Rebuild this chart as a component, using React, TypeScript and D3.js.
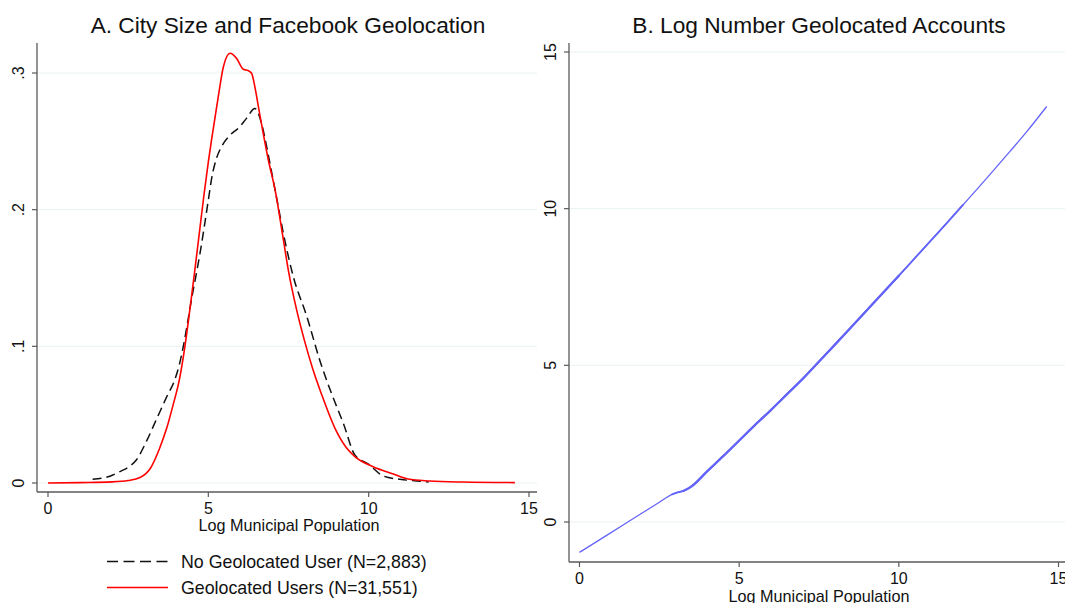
import React from "react";
import * as d3 from "d3";

// Panel A: kernel densities of log municipal population
const noGeoX = [1.39, 1.93, 2.3, 2.5, 2.76, 3.08, 3.39, 3.7, 3.96, 4.1, 4.22, 4.35, 4.48, 4.6, 4.74, 4.87, 5.0, 5.12, 5.26, 5.41, 5.68, 5.93, 6.19, 6.45, 6.66, 6.82, 6.98, 7.18, 7.34, 7.65, 8.07, 8.5, 8.85, 9.21, 9.57, 9.99, 10.46, 10.98, 11.5, 11.87];
const noGeoY = [0.0027, 0.005, 0.009, 0.0115, 0.017, 0.031, 0.047, 0.063, 0.076, 0.087, 0.1, 0.117, 0.135, 0.15, 0.168, 0.187, 0.207, 0.225, 0.238, 0.246, 0.2546, 0.2595, 0.2668, 0.274, 0.263, 0.246, 0.2268, 0.2024, 0.1827, 0.151, 0.1219, 0.088, 0.065, 0.0437, 0.0205, 0.0139, 0.0051, 0.0027, 0.0015, 0.0008];

const geoX = [0, 1, 2, 2.5, 2.87, 3.2, 3.49, 3.7, 3.9, 4.1, 4.27, 4.43, 4.58, 4.72, 4.86, 5.0, 5.1, 5.31, 5.47, 5.68, 5.88, 6.09, 6.25, 6.35, 6.45, 6.56, 6.71, 6.87, 7.08, 7.34, 7.5, 7.75, 8.0, 8.25, 8.53, 8.95, 9.3, 9.57, 10.14, 10.77, 11.23, 11.9, 12.95, 14.56];
const geoY = [0.0, 0.0003, 0.0008, 0.0018, 0.004, 0.011, 0.026, 0.04, 0.057, 0.076, 0.1, 0.128, 0.156, 0.183, 0.21, 0.235, 0.251, 0.2827, 0.3046, 0.3144, 0.3107, 0.3027, 0.3017, 0.2998, 0.29, 0.2756, 0.256, 0.2365, 0.2146, 0.178, 0.155, 0.127, 0.104, 0.084, 0.065, 0.04, 0.026, 0.0193, 0.0119, 0.0066, 0.0029, 0.0015, 0.0007, 0.0003];

// Panel B: log number geolocated accounts vs log population
const accX = [0, 0.5, 1.0, 1.5, 2.0, 2.5, 2.9, 3.1, 3.25, 3.5, 4.0, 4.5, 5.0, 5.5, 6.0, 6.5, 7.0, 7.5, 8.0, 8.5, 9.0, 9.5, 10.0, 10.5, 11.0, 11.5, 12.0, 12.5, 13.0, 13.5, 14.0, 14.63];
const accY = [-0.97, -0.65, -0.33, -0.01, 0.31, 0.63, 0.88, 0.95, 0.99, 1.13, 1.62, 2.1, 2.6, 3.1, 3.58, 4.08, 4.58, 5.12, 5.66, 6.21, 6.76, 7.31, 7.86, 8.42, 8.98, 9.54, 10.11, 10.68, 11.26, 11.85, 12.45, 13.26];

const xTicks = [0, 5, 10, 15];
const yTicksA = [0, 0.1, 0.2, 0.3];
const yTickLabelsA = ["0", ".1", ".2", ".3"];
const yTicksB = [0, 5, 10, 15];

const titleA = "A. City Size and Facebook Geolocation";
const titleB = "B. Log Number Geolocated Accounts";
const xTitle = "Log Municipal Population";
const legendLabels = ["No Geolocated User (N=2,883)", "Geolocated Users (N=31,551)"];

const FONT = "'Liberation Sans', Arial, Helvetica, sans-serif";
const AXIS = "#5a5a5a";
const GRID = "#eaf2f3";
const BLUE = "#6464f8";

export default function App() {
  // Panel A scales
  const xA = d3.scaleLinear().domain([0, 15]).range([48, 529]);
  const yA = d3.scaleLinear().domain([0, 0.3]).range([483, 73]);
  // Panel B scales
  const xB = d3.scaleLinear().domain([0, 15]).range([579.5, 1058.5]);
  const yB = d3.scaleLinear().domain([0, 15]).range([522, 52]);

  const lineA = d3
    .line<[number, number]>()
    .x((d) => xA(d[0]))
    .y((d) => yA(d[1]))
    .curve(d3.curveMonotoneX);
  const lineB = d3
    .line<[number, number]>()
    .x((d) => xB(d[0]))
    .y((d) => yB(d[1]))
    .curve(d3.curveMonotoneX);

  const noGeo = noGeoX.map((x, i) => [x, noGeoY[i]] as [number, number]);
  const geo = geoX.map((x, i) => [x, geoY[i]] as [number, number]);
  const acc = accX.map((x, i) => [x, accY[i]] as [number, number]);
  const accMid = acc.filter((d) => d[0] >= 2.9 && d[0] <= 12);
  const accDense = acc.filter((d) => d[0] >= 3.25 && d[0] <= 10);

  const aLeft = 37, aRight = 537, aTop = 43, aBottom = 492;
  const bLeft = 569, bRight = 1065, bTop = 43, bBottom = 562;
  const tickFs = 16;

  return (
    <svg
      width={1065}
      height={603}
      style={{ position: "absolute", left: 0, top: 0, background: "#fff" }}
      fontFamily={FONT}
    >
      <rect x={0} y={0} width={1065} height={603} fill="#fff" />
      {/* Panel A */}
      <g>
        {yTicksA.map((t) => (
          <line key={"ga" + t} x1={aLeft} x2={aRight} y1={yA(t)} y2={yA(t)} stroke={GRID} strokeWidth={1} />
        ))}
        <line x1={aLeft} x2={aLeft} y1={aTop} y2={aBottom} stroke={AXIS} strokeWidth={1.3} />
        <line x1={aLeft} x2={aRight} y1={aBottom} y2={aBottom} stroke={AXIS} strokeWidth={1.3} />
        {yTicksA.map((t, i) => (
          <g key={"ya" + t}>
            <line x1={aLeft - 5} x2={aLeft} y1={yA(t)} y2={yA(t)} stroke={AXIS} strokeWidth={1.2} />
            <text
              transform={`translate(${24},${yA(t)}) rotate(-90)`}
              textAnchor="middle"
              fontSize={tickFs}
              fill="#111"
            >
              {yTickLabelsA[i]}
            </text>
          </g>
        ))}
        {xTicks.map((t) => (
          <g key={"xa" + t}>
            <line x1={xA(t)} x2={xA(t)} y1={aBottom} y2={aBottom + 5} stroke={AXIS} strokeWidth={1.2} />
            <text x={xA(t)} y={514} textAnchor="middle" fontSize={tickFs} fill="#111">
              {t}
            </text>
          </g>
        ))}
        <text x={289} y={531} textAnchor="middle" fontSize={16.2} fill="#111">
          {xTitle}
        </text>
        <text x={288} y={32.5} textAnchor="middle" fontSize={22.7} fill="#111">
          {titleA}
        </text>
        <path d={lineA(noGeo) || ""} fill="none" stroke="#111" strokeWidth={1.5} strokeDasharray="9,5" />
        <path d={lineA(geo) || ""} fill="none" stroke="#ff0000" strokeWidth={1.6} />
        {/* Legend */}
        <line x1={107} x2={168} y1={561.5} y2={561.5} stroke="#111" strokeWidth={1.5} strokeDasharray="11,5.5" />
        <text x={181} y={568} fontSize={17.8} fill="#111">
          {legendLabels[0]}
        </text>
        <line x1={107} x2={168} y1={587.5} y2={587.5} stroke="#ff0000" strokeWidth={1.6} />
        <text x={181} y={593.5} fontSize={17.8} fill="#111">
          {legendLabels[1]}
        </text>
      </g>
      {/* Panel B */}
      <g>
        {yTicksB.map((t) => (
          <line key={"gb" + t} x1={bLeft} x2={bRight} y1={yB(t)} y2={yB(t)} stroke={GRID} strokeWidth={1} />
        ))}
        <line x1={bLeft} x2={bLeft} y1={bTop} y2={bBottom} stroke={AXIS} strokeWidth={1.3} />
        <line x1={bLeft} x2={bRight} y1={bBottom} y2={bBottom} stroke={AXIS} strokeWidth={1.3} />
        {yTicksB.map((t) => (
          <g key={"yb" + t}>
            <line x1={bLeft - 5} x2={bLeft} y1={yB(t)} y2={yB(t)} stroke={AXIS} strokeWidth={1.2} />
            <text
              transform={`translate(${555.5},${yB(t)}) rotate(-90)`}
              textAnchor="middle"
              fontSize={tickFs}
              fill="#111"
            >
              {t}
            </text>
          </g>
        ))}
        {xTicks.map((t) => (
          <g key={"xb" + t}>
            <line x1={xB(t)} x2={xB(t)} y1={bBottom} y2={bBottom + 5} stroke={AXIS} strokeWidth={1.2} />
            <text x={xB(t)} y={584} textAnchor="middle" fontSize={tickFs} fill="#111">
              {t}
            </text>
          </g>
        ))}
        <text x={819} y={602} textAnchor="middle" fontSize={16.2} fill="#111">
          {xTitle}
        </text>
        <text x={819} y={32.5} textAnchor="middle" fontSize={22.7} fill="#111">
          {titleB}
        </text>
        <path d={lineB(acc) || ""} fill="none" stroke={BLUE} strokeWidth={1.3} />
        <path d={lineB(accMid) || ""} fill="none" stroke={BLUE} strokeWidth={1.8} strokeLinecap="round" />
        <path d={lineB(accDense) || ""} fill="none" stroke={BLUE} strokeWidth={2.3} strokeLinecap="round" />
      </g>
    </svg>
  );
}
